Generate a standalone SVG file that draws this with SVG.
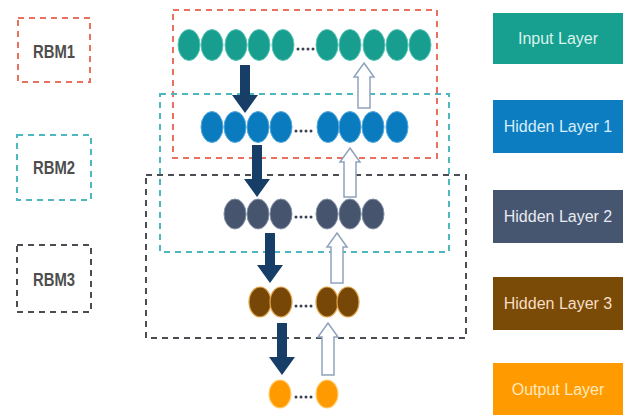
<svg xmlns="http://www.w3.org/2000/svg" width="628" height="417" viewBox="0 0 628 417">
  <style>
    .rbm-red { fill: none; stroke: #e8705e; stroke-width: 2; stroke-dasharray: 6 5; }
    .rbm-teal { fill: none; stroke: #4db8bf; stroke-width: 2; stroke-dasharray: 6 5; }
    .rbm-dark { fill: none; stroke: #4a4d52; stroke-width: 2; stroke-dasharray: 6 5; }
    .rbm-text { font-family: "Liberation Sans", Arial, sans-serif; font-weight: bold; font-size: 18px; fill: #4e4e4e; text-anchor: middle; }
    .label-text { font-family: "Liberation Sans", Arial, sans-serif; font-size: 16px; text-anchor: middle; }
    .n-in { fill: #179e8e; stroke: #5cc6b8; stroke-width: 1; }
    .n-h1 { fill: #0b7bbf; stroke: #55aadd; stroke-width: 1; }
    .n-h2 { fill: #46546d; stroke: #8290a8; stroke-width: 1; }
    .n-h3 { fill: #774708; stroke: #e0a64a; stroke-width: 1.2; }
    .n-out { fill: #ff9a00; stroke: #ffd27a; stroke-width: 1.2; }
    .dot { fill: #3a4150; }
    .down { fill: #173e66; }
    .up { fill: #ffffff; stroke: #8ea3bc; stroke-width: 1.5; }
  </style>

  <!-- RBM legend boxes -->
  <g id="rbm1-legend">
    <rect class="rbm-red" x="18" y="18" width="72" height="64"/>
    <text class="rbm-text" x="54" y="58" textLength="42" lengthAdjust="spacingAndGlyphs">RBM1</text>
  </g>
  <g id="rbm2-legend">
    <rect class="rbm-teal" x="17" y="135" width="74" height="65"/>
    <text class="rbm-text" x="54" y="174" textLength="42" lengthAdjust="spacingAndGlyphs">RBM2</text>
  </g>
  <g id="rbm3-legend">
    <rect class="rbm-dark" x="17" y="245" width="74" height="67"/>
    <text class="rbm-text" x="54" y="286" textLength="42" lengthAdjust="spacingAndGlyphs">RBM3</text>
  </g>

  <!-- RBM regions around pairs of layers -->
  <g id="rbm-regions">
    <rect class="rbm-red" x="173" y="10" width="264" height="148"/>
    <rect class="rbm-teal" x="160" y="94" width="289" height="158"/>
    <rect class="rbm-dark" x="146" y="175" width="320" height="163"/>
  </g>

  <!-- Input layer -->
  <g id="input-layer">
    <ellipse class="n-in" cx="189" cy="45" rx="11" ry="15.5"/>
    <ellipse class="n-in" cx="212" cy="45" rx="11" ry="15.5"/>
    <ellipse class="n-in" cx="236" cy="45" rx="11" ry="15.5"/>
    <ellipse class="n-in" cx="259" cy="45" rx="11" ry="15.5"/>
    <ellipse class="n-in" cx="283" cy="45" rx="11" ry="15.5"/>
    <circle class="dot" cx="298" cy="49" r="1.5"/>
    <circle class="dot" cx="303" cy="49" r="1.5"/>
    <circle class="dot" cx="308" cy="49" r="1.5"/>
    <circle class="dot" cx="313" cy="49" r="1.5"/>
    <ellipse class="n-in" cx="327" cy="45" rx="11" ry="15.5"/>
    <ellipse class="n-in" cx="350" cy="45" rx="11" ry="15.5"/>
    <ellipse class="n-in" cx="374" cy="45" rx="11" ry="15.5"/>
    <ellipse class="n-in" cx="397" cy="45" rx="11" ry="15.5"/>
    <ellipse class="n-in" cx="420" cy="45" rx="11" ry="15.5"/>
  </g>

  <!-- Hidden layer 1 -->
  <g id="hidden-layer-1">
    <ellipse class="n-h1" cx="212" cy="127" rx="11" ry="15.5"/>
    <ellipse class="n-h1" cx="235" cy="127" rx="11" ry="15.5"/>
    <ellipse class="n-h1" cx="258" cy="127" rx="11" ry="15.5"/>
    <ellipse class="n-h1" cx="281" cy="127" rx="11" ry="15.5"/>
    <circle class="dot" cx="296" cy="131" r="1.5"/>
    <circle class="dot" cx="301" cy="131" r="1.5"/>
    <circle class="dot" cx="306" cy="131" r="1.5"/>
    <circle class="dot" cx="311" cy="131" r="1.5"/>
    <ellipse class="n-h1" cx="328" cy="127" rx="11" ry="15.5"/>
    <ellipse class="n-h1" cx="350" cy="127" rx="11" ry="15.5"/>
    <ellipse class="n-h1" cx="373" cy="127" rx="11" ry="15.5"/>
    <ellipse class="n-h1" cx="397" cy="127" rx="11" ry="15.5"/>
  </g>

  <!-- Hidden layer 2 -->
  <g id="hidden-layer-2">
    <ellipse class="n-h2" cx="235" cy="214" rx="11" ry="15"/>
    <ellipse class="n-h2" cx="258" cy="214" rx="11" ry="15"/>
    <ellipse class="n-h2" cx="281" cy="214" rx="11" ry="15"/>
    <circle class="dot" cx="296" cy="217" r="1.5"/>
    <circle class="dot" cx="301" cy="217" r="1.5"/>
    <circle class="dot" cx="306" cy="217" r="1.5"/>
    <circle class="dot" cx="311" cy="217" r="1.5"/>
    <ellipse class="n-h2" cx="327" cy="214" rx="11" ry="15"/>
    <ellipse class="n-h2" cx="350" cy="214" rx="11" ry="15"/>
    <ellipse class="n-h2" cx="373" cy="214" rx="11" ry="15"/>
  </g>

  <!-- Hidden layer 3 -->
  <g id="hidden-layer-3">
    <ellipse class="n-h3" cx="260" cy="302" rx="11" ry="15"/>
    <ellipse class="n-h3" cx="281" cy="302" rx="11" ry="15"/>
    <circle class="dot" cx="296" cy="306" r="1.5"/>
    <circle class="dot" cx="301" cy="306" r="1.5"/>
    <circle class="dot" cx="306" cy="306" r="1.5"/>
    <circle class="dot" cx="311" cy="306" r="1.5"/>
    <ellipse class="n-h3" cx="327" cy="302" rx="11" ry="15"/>
    <ellipse class="n-h3" cx="348" cy="302" rx="11" ry="15"/>
  </g>

  <!-- Output layer -->
  <g id="output-layer">
    <ellipse class="n-out" cx="280" cy="394" rx="11" ry="14"/>
    <circle class="dot" cx="296" cy="397" r="1.5"/>
    <circle class="dot" cx="301" cy="397" r="1.5"/>
    <circle class="dot" cx="306" cy="397" r="1.5"/>
    <circle class="dot" cx="311" cy="397" r="1.5"/>
    <ellipse class="n-out" cx="327" cy="394" rx="11" ry="14"/>
  </g>

  <!-- Forward (solid) and reconstruction (hollow) arrows -->
  <g id="connectors">
    <polygon class="down" points="240,65 250,65 250,95 258,95 245,113 232,95 240,95"/>
    <polygon class="down" points="252,145 262,145 262,179 270,179 257,197 244,179 252,179"/>
    <polygon class="down" points="265,233 275,233 275,265 283,265 270,283 257,265 265,265"/>
    <polygon class="down" points="277,323 287,323 287,357 295,357 282,375 269,357 277,357"/>
    <polygon class="up" points="364,63 374,77 370,77 370,108 358,108 358,77 354,77"/>
    <polygon class="up" points="350,148 360,162 356,162 356,197 344,197 344,162 340,162"/>
    <polygon class="up" points="337,233 347,247 343,247 343,283 331,283 331,247 327,247"/>
    <polygon class="up" points="328,323 338,337 334,337 334,375 322,375 322,337 318,337"/>
  </g>

  <!-- Layer name tags -->
  <g id="tag-input">
    <rect x="493" y="13" width="130" height="51" fill="#17a08f"/>
    <text class="label-text" x="558" y="44" fill="#daf3ee">Input Layer</text>
  </g>
  <g id="tag-hidden-1">
    <rect x="493" y="100" width="130" height="53" fill="#0b7dc0"/>
    <text class="label-text" x="558" y="132" fill="#d8edf9">Hidden Layer 1</text>
  </g>
  <g id="tag-hidden-2">
    <rect x="493" y="190" width="130" height="53" fill="#465570"/>
    <text class="label-text" x="558" y="222" fill="#e8ebf0">Hidden Layer 2</text>
  </g>
  <g id="tag-hidden-3">
    <rect x="493" y="277" width="130" height="53" fill="#7a4a07"/>
    <text class="label-text" x="558" y="309" fill="#f6dfc4">Hidden Layer 3</text>
  </g>
  <g id="tag-output">
    <rect x="493" y="363" width="130" height="52" fill="#ff9a00"/>
    <text class="label-text" x="558" y="395" fill="#ffe9bd">Output Layer</text>
  </g>
</svg>
